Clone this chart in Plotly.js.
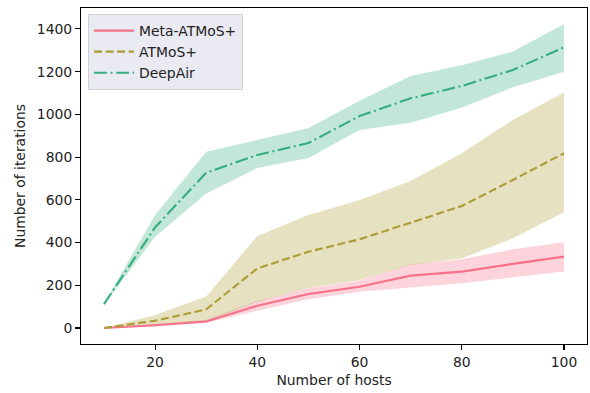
<!DOCTYPE html>
<html>
<head>
<meta charset="utf-8">
<script src="https://cdn.plot.ly/plotly-3.0.1.min.js"></script>
<style>html,body{margin:0;padding:0;background:#fff;}#chart{width:590px;height:393px;}</style>
</head>
<body>
<div id="chart"></div>
<script>
const hosts = [10, 20, 30, 40, 50, 60, 70, 80, 90, 100];

const metaMean  = [0, 13, 30, 104, 159, 193, 245, 264, 300, 334];
const metaLow   = [0, 8, 24, 81, 134, 170, 189, 209, 237, 264];
const metaHigh  = [0, 18, 38, 128, 186, 222, 298, 322, 368, 401];

const atmosMean = [0, 34, 87, 279, 357, 415, 493, 571, 693, 818];
const atmosLow  = [0, 14, 30, 123, 187, 225, 295, 326, 420, 542];
const atmosHigh = [0, 61, 147, 431, 529, 599, 688, 818, 974, 1102];

const deepMean  = [112, 471, 727, 810, 866, 992, 1075, 1133, 1208, 1314];
const deepLow   = [108, 427, 630, 749, 796, 927, 961, 1031, 1127, 1200];
const deepHigh  = [116, 529, 825, 880, 936, 1064, 1180, 1230, 1294, 1423];

const seriesNames = ['Meta-ATMoS+', 'ATMoS+', 'DeepAir'];
const colors = ['#f7718a', '#ab9c33', '#35ae7f'];
const fills = ['rgba(247,113,138,0.3)', 'rgba(171,156,51,0.3)', 'rgba(53,174,127,0.3)'];
const dashes = ['solid', '8px,3.5px', '13px,3.5px,2px,3.5px'];
const means = [metaMean, atmosMean, deepMean];
const lows = [metaLow, atmosLow, deepLow];
const highs = [metaHigh, atmosHigh, deepHigh];

const traces = [];
for (let i = 0; i < 3; i++) {
  traces.push({
    x: hosts.concat(hosts.slice().reverse()),
    y: highs[i].concat(lows[i].slice().reverse()),
    type: 'scatter', mode: 'lines', fill: 'toself',
    fillcolor: fills[i], line: {width: 0, color: 'rgba(0,0,0,0)'},
    hoverinfo: 'skip', showlegend: false
  });
}
for (let i = 0; i < 3; i++) {
  traces.push({
    x: hosts, y: means[i], type: 'scatter', mode: 'lines',
    name: seriesNames[i],
    line: {color: colors[i], width: 2.1, dash: dashes[i]}
  });
}

const font = {family: 'DejaVu Sans, sans-serif', size: 13.9, color: '#222'};
const layout = {
  width: 590, height: 393,
  margin: {l: 81, r: 3, t: 8, b: 49},
  paper_bgcolor: '#fff', plot_bgcolor: '#fff',
  font: font,
  showlegend: true,
  legend: {
    x: 0.014, y: 0.982, xanchor: 'left', yanchor: 'top',
    bgcolor: '#eaeaf2', bordercolor: '#d0d0d8', borderwidth: 1,
    font: font, tracegroupgap: 0, itemwidth: 40
  },
  xaxis: {
    range: [5.5, 104.5], tickvals: [20, 40, 60, 80, 100],
    showgrid: false, zeroline: false,
    showline: true, mirror: true, linecolor: '#000', linewidth: 1.1,
    ticks: 'outside', ticklen: 4.9, tickwidth: 1.1, tickcolor: '#000',
    tickfont: font,
    title: {text: 'Number of hosts', font: font, standoff: 6}
  },
  yaxis: {
    range: [-75, 1498], tickvals: [0, 200, 400, 600, 800, 1000, 1200, 1400],
    showgrid: false, zeroline: false,
    showline: true, mirror: true, linecolor: '#000', linewidth: 1.1,
    ticks: 'outside', ticklen: 4.9, tickwidth: 1.1, tickcolor: '#000',
    tickfont: font,
    title: {text: 'Number of iterations', font: font, standoff: 8}
  }
};

Plotly.newPlot('chart', traces, layout, {staticPlot: true, displayModeBar: false});
</script>
</body>
</html>
